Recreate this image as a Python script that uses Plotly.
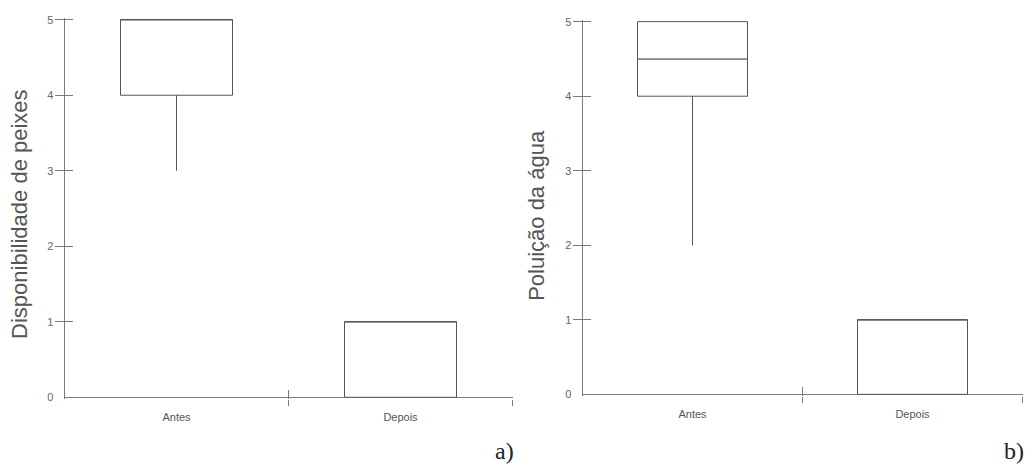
import plotly.graph_objects as go

W, H = 1033, 468

categories = ["Antes", "Depois"]

# Panel a: Disponibilidade de peixes
a_q1 = [4, 0]
a_median = [5, 1]
a_q3 = [5, 1]
a_low = [3, 0]
a_high = [5, 1]

# Panel b: Poluição da água
b_q1 = [4, 0]
b_median = [4.5, 1]
b_q3 = [5, 1]
b_low = [2, 0]
b_high = [5, 1]

y_ticks = [0, 1, 2, 3, 4, 5]
y_marked = [1, 2, 3, 4, 5]
x_bounds = [0.5, 1.5]

BOX = "#555555"
AXIS = "#7a7a7a"
TXT = "#666666"
FONT = "Liberation Sans, Arial, sans-serif"
PAD_PX = 1.5
BOX_WIDTH = 0.5


def px_x(p):
    return p / W


def px_y(p):
    return 1 - p / H


fig = go.Figure()


def add_boxplot(q1, med, q3, lo, hi, xa, ya):
    # box: two stacked outlined bars (q1 -> median, median -> q3)
    fig.add_trace(go.Bar(
        x=categories, base=q1, y=[m - a for m, a in zip(med, q1)],
        width=BOX_WIDTH, xaxis=xa, yaxis=ya,
        marker=dict(color="white", line=dict(color=BOX, width=1)),
        showlegend=False, hoverinfo="skip"))
    fig.add_trace(go.Bar(
        x=categories, base=med, y=[b - m for b, m in zip(q3, med)],
        width=BOX_WIDTH, xaxis=xa, yaxis=ya,
        marker=dict(color="white", line=dict(color=BOX, width=1)),
        showlegend=False, hoverinfo="skip"))
    # whiskers
    fig.add_trace(go.Scatter(
        x=categories, y=q1, mode="markers", xaxis=xa, yaxis=ya,
        marker=dict(size=1, opacity=0),
        error_y=dict(type="data", symmetric=False,
                     array=[0] * len(q1),
                     arrayminus=[a - l for a, l in zip(q1, lo)],
                     width=0, thickness=1, color=BOX),
        showlegend=False, hoverinfo="skip"))
    fig.add_trace(go.Scatter(
        x=categories, y=q3, mode="markers", xaxis=xa, yaxis=ya,
        marker=dict(size=1, opacity=0),
        error_y=dict(type="data", symmetric=False,
                     array=[h - b for h, b in zip(hi, q3)],
                     arrayminus=[0] * len(q3),
                     width=0, thickness=1, color=BOX),
        showlegend=False, hoverinfo="skip"))


add_boxplot(a_q1, a_median, a_q3, a_low, a_high, "x", "y")
add_boxplot(b_q1, b_median, b_q3, b_low, b_high, "x2", "y2")

for xa, ya in [("x3", "y"), ("x4", "y"), ("x", "y3"), ("x", "y4"),
               ("x5", "y2"), ("x6", "y2"), ("x2", "y5"), ("x2", "y6")]:
    fig.add_trace(go.Scatter(x=[None], y=[None], xaxis=xa, yaxis=ya,
                             showlegend=False, hoverinfo="skip"))


def yscale(zero_px, unit_px):
    pad = PAD_PX / unit_px
    top_px = zero_px - 5 * unit_px
    dom = [px_y(zero_px + PAD_PX), px_y(top_px - PAD_PX)]
    return dom, [-pad, 5 + pad]


dom_a_x = [px_x(64.5), px_x(64.5 + 448)]
dom_a_y, YR_A = yscale(400, 77)
dom_b_x = [px_x(582.5), px_x(582.5 + 440)]
dom_b_y, YR_B = yscale(397, 76)

XR = [-0.5, 1.5]


def main_x(domain, anchor):
    return dict(domain=domain, anchor=anchor, type="category",
                categoryarray=categories, range=XR,
                showline=False,
                ticks="outside", ticklen=8, tickcolor="rgba(0,0,0,0)",
                showgrid=False, zeroline=False,
                tickfont=dict(family=FONT, size=11, color="#555555"))


def main_y(domain, anchor, yr):
    return dict(domain=domain, anchor=anchor, range=yr,
                tickvals=y_ticks, showline=True, linecolor=AXIS, linewidth=1,
                ticks="outside", ticklen=8, tickcolor="rgba(0,0,0,0)",
                showgrid=False, zeroline=True, zerolinecolor=AXIS,
                zerolinewidth=1,
                tickfont=dict(family=FONT, size=11, color=TXT))


def over_x(base, anchor, side_ticks, ln):
    return dict(overlaying=base, anchor=anchor, range=XR, tickvals=x_bounds,
                ticks=side_ticks, ticklen=ln, tickcolor=AXIS, tickwidth=1,
                showticklabels=False, showline=False, showgrid=False,
                zeroline=False, side="bottom")


def over_y(base, anchor, yr, side_ticks, ln):
    return dict(overlaying=base, anchor=anchor, range=yr, tickvals=y_marked,
                ticks=side_ticks, ticklen=ln, tickcolor=AXIS, tickwidth=1,
                showticklabels=False, showline=False, showgrid=False,
                zeroline=False, side="left")


fig.update_layout(
    width=W, height=H,
    margin=dict(l=0, r=0, t=0, b=0),
    paper_bgcolor="white", plot_bgcolor="white",
    barmode="overlay",
    xaxis=main_x(dom_a_x, "y"),
    yaxis=main_y(dom_a_y, "x", YR_A),
    xaxis2=main_x(dom_b_x, "y2"),
    yaxis2=main_y(dom_b_y, "x2", YR_B),
    xaxis3=over_x("x", "y", "outside", 6),
    xaxis4=over_x("x", "y", "inside", 9),
    yaxis3=over_y("y", "x", YR_A, "outside", 9),
    yaxis4=over_y("y", "x", YR_A, "inside", 8),
    xaxis5=over_x("x2", "y2", "outside", 6),
    xaxis6=over_x("x2", "y2", "inside", 9),
    yaxis5=over_y("y2", "x2", YR_B, "outside", 9),
    yaxis6=over_y("y2", "x2", YR_B, "inside", 8),
    annotations=[
        dict(text="Disponibilidade de peixes", x=px_x(20), y=px_y(213),
             xref="paper", yref="paper", textangle=-90, showarrow=False,
             xanchor="center", yanchor="middle",
             font=dict(family=FONT, size=22, color="#555555")),
        dict(text="Poluição da água", x=px_x(537), y=px_y(215),
             xref="paper", yref="paper", textangle=-90, showarrow=False,
             xanchor="center", yanchor="middle",
             font=dict(family=FONT, size=22, color="#555555")),
        dict(text="a)", x=px_x(516), y=px_y(455), xref="paper", yref="paper",
             showarrow=False, xanchor="right", yanchor="middle",
             font=dict(family="Liberation Serif, Times New Roman, serif",
                       size=24, color="#222222")),
        dict(text="b)", x=px_x(1026), y=px_y(455), xref="paper", yref="paper",
             showarrow=False, xanchor="right", yanchor="middle",
             font=dict(family="Liberation Serif, Times New Roman, serif",
                       size=24, color="#222222")),
    ],
)

fig.write_html("out.html")
